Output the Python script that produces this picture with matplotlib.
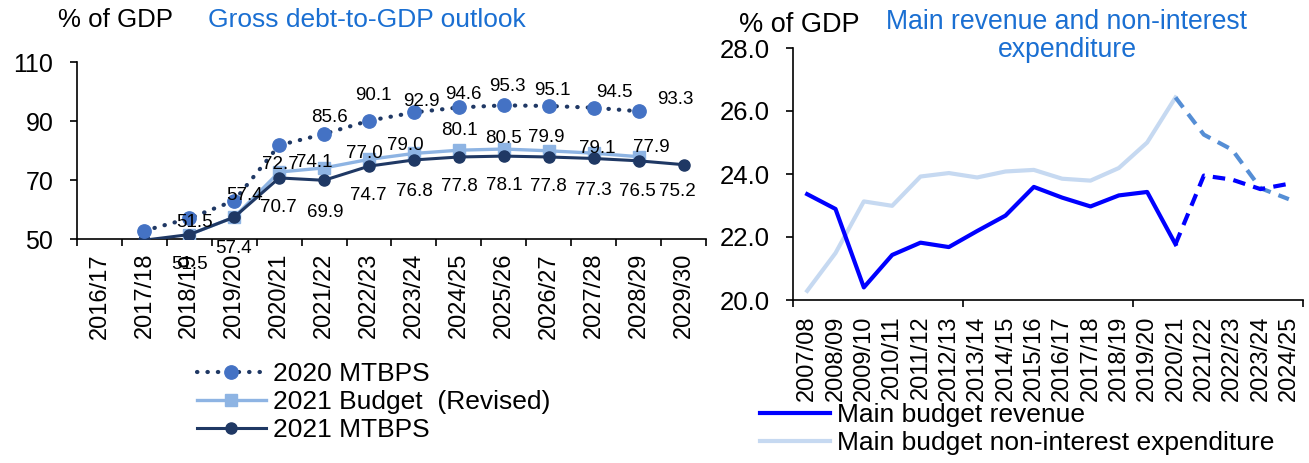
import numpy as np
import matplotlib
matplotlib.use("Agg")
import matplotlib.pyplot as plt
from matplotlib.lines import Line2D

plt.rcParams['font.family'] = ['Liberation Sans', 'DejaVu Sans']

# Left chart data - gross debt outlook (% of GDP)
debt_years = ["2016/17", "2017/18", "2018/19", "2019/20", "2020/21", "2021/22", "2022/23",
              "2023/24", "2024/25", "2025/26", "2026/27", "2027/28", "2028/29", "2029/30"]
mtbps_2020 = [np.nan, 52.8, 57.0, 63.0, 81.8, 85.6, 90.1, 92.9, 94.6, 95.3, 95.1, 94.5, 93.3, np.nan]
budget_2021 = [np.nan, np.nan, 51.5, 57.4, 72.7, 74.1, 77.0, 79.0, 80.1, 80.5, 79.9, 79.1, 77.9, np.nan]
mtbps_2021 = [np.nan, 49.6, 51.5, 57.4, 70.7, 69.9, 74.7, 76.8, 77.8, 78.1, 77.8, 77.3, 76.5, 75.2]

# which points carry a data label
mtbps_2020_labelled = [False, False, False, False, False, True, True, True, True, True, True, True, True, False]
budget_2021_labelled = [False, False, True, True, True, True, True, True, True, True, True, True, True, False]
mtbps_2021_labelled = [False, False, True, True, True, True, True, True, True, True, True, True, True, True]

# Right chart data - main budget revenue and non-interest expenditure (% of GDP)
fiscal_years = ["2007/08", "2008/09", "2009/10", "2010/11", "2011/12", "2012/13", "2013/14",
                "2014/15", "2015/16", "2016/17", "2017/18", "2018/19", "2019/20", "2020/21",
                "2021/22", "2022/23", "2023/24", "2024/25"]
revenue = [23.36, 22.89, 20.40, 21.43, 21.82, 21.68, 22.19, 22.68, 23.59, 23.25, 22.97,
           23.32, 23.43, 21.77, 23.95, 23.82, 23.52, 23.69]
non_interest_exp = [20.29, 21.49, 23.13, 22.99, 23.92, 24.03, 23.89, 24.08, 24.13, 23.85,
                    23.79, 24.19, 25.00, 26.43, 25.25, 24.77, 23.55, 23.20]
first_projection = "2020/21"

# label offsets in pixels (dx, dy), one per point
off_2020 = [(0, 0)] * 5 + [(5, 16), (4, 25), (7, 11), (4, 13), (4, 19), (4, 15), (21, 15), (37, 12), (0, 0)]
off_budget = [(0, 0), (0, 0), (0, -30), (-1, -31), (1, 8), (-10, 5), (-5, 6), (-9, 8), (1, 20),
              (0, 11), (-2, 13), (4, 5), (13, 9), (0, 0)]
off_2021 = [(0, 0), (0, 0), (5, 12), (10, 22), (-1, -30), (1, -32), (-1, -29), (0, -32), (0, -30),
            (0, -29), (0, -30), (0, -32), (-1, -31), (-6, -27)]

NAVY = '#1F3864'
MID_BLUE = '#4472C4'
LIGHT_BLUE = '#8EB4E3'
TITLE_BLUE = '#1A6FD2'
W, H = 1309, 463

fig = plt.figure(figsize=(W / 100, H / 100), dpi=100)

# ---------------- Left chart ----------------
ax1 = fig.add_axes([77 / W, 1 - 239 / H, 629 / W, 177 / H])
x1 = np.arange(len(debt_years))

ax1.plot(x1, budget_2021, color=LIGHT_BLUE, lw=2.4, marker='s', ms=8,
         label='2021 Budget  (Revised)', zorder=3)
ax1.plot(x1, mtbps_2021, color=NAVY, lw=2.2, marker='o', ms=8,
         label='2021 MTBPS', zorder=4)
ax1.plot(x1, mtbps_2020, color=NAVY, lw=3, linestyle=(0, (0.1, 2.4)), dash_capstyle='round',
         marker='o', ms=9.6, markerfacecolor=MID_BLUE, markeredgecolor=MID_BLUE,
         label='2020 MTBPS', zorder=5)

for series, flags, offs in [(mtbps_2020, mtbps_2020_labelled, off_2020),
                            (budget_2021, budget_2021_labelled, off_budget),
                            (mtbps_2021, mtbps_2021_labelled, off_2021)]:
    for i, v in enumerate(series):
        if flags[i] and not np.isnan(v):
            ax1.annotate(f"{v:.1f}", (x1[i], v), xytext=offs[i], textcoords='offset pixels',
                         ha='center', va='center', fontsize=13.5, zorder=6,
                         annotation_clip=False)

ax1.set_ylim(50, 110)
ax1.set_yticks([50, 70, 90, 110])
ax1.set_xlim(-0.5, len(debt_years) - 0.5)
ax1.set_xticks(x1)
ax1.set_xticklabels(debt_years, rotation=90)
ax1.set_xticks(np.arange(-0.5, len(debt_years), 1), minor=True)
ax1.tick_params(axis='x', which='major', length=0, pad=10, labelsize=17)
ax1.tick_params(axis='x', which='minor', length=5, width=1.2, direction='out')
ax1.tick_params(axis='y', length=5, width=1.2, labelsize=18, pad=12)
for s in ['top', 'right']:
    ax1.spines[s].set_visible(False)
for s in ['left', 'bottom']:
    ax1.spines[s].set_linewidth(1.2)

fig.text(58 / W, 1 - 20 / H, '% of GDP', fontsize=18.6, va='center', ha='left')
fig.text(208 / W, 1 - 20 / H, 'Gross debt-to-GDP outlook', fontsize=19, va='center',
         ha='left', color=TITLE_BLUE)

h, l = ax1.get_legend_handles_labels()
order = [2, 0, 1]
fig.legend([h[i] for i in order], [l[i] for i in order], loc='upper left',
           bbox_to_anchor=(197 / W, 1 - 362 / H), frameon=False, fontsize=19,
           handlelength=2.6, handletextpad=0.27, labelspacing=0.15, borderpad=0, borderaxespad=0)

# ---------------- Right chart ----------------
ax2 = fig.add_axes([793 / W, 1 - 300 / H, 510 / W, 252 / H])
x2 = np.arange(len(fiscal_years))
p = fiscal_years.index(first_projection)

ax2.plot(x2[:p + 1], non_interest_exp[:p + 1], color='#C6D9F1', lw=3, zorder=2)
ax2.plot(x2[p:], non_interest_exp[p:], color='#558ED5', lw=3, linestyle=(0, (3, 2)), zorder=2)
ax2.plot(x2[:p + 1], revenue[:p + 1], color='#0000FF', lw=3, zorder=3)
ax2.plot(x2[p:], revenue[p:], color='#0000FF', lw=3, linestyle=(0, (3, 2)), zorder=3)

ax2.set_ylim(20, 28)
ax2.set_yticks([20, 22, 24, 26, 28])
ax2.set_yticklabels([f"{t:.1f}" for t in [20, 22, 24, 26, 28]])
ax2.set_xlim(-0.5, len(fiscal_years) - 0.5)
ax2.set_xticks(x2)
ax2.set_xticklabels(fiscal_years, rotation=90)
ax2.set_xticks(np.arange(-0.5, len(fiscal_years), 6), minor=True)
ax2.tick_params(axis='x', which='major', length=0, pad=11, labelsize=17)
ax2.tick_params(axis='x', which='minor', length=5, width=1.2, direction='out')
ax2.tick_params(axis='y', length=5, width=1.2, labelsize=18.5, pad=12)
for s in ['top', 'right']:
    ax2.spines[s].set_visible(False)
for s in ['left', 'bottom']:
    ax2.spines[s].set_linewidth(1.2)

fig.text(739 / W, 1 - 25 / H, '% of GDP', fontsize=19.5, va='center', ha='left')
fig.text(1067 / W, 1 - 36 / H, 'Main revenue and non-interest\nexpenditure', fontsize=19.2,
         va='center', ha='center', color=TITLE_BLUE, linespacing=1.1)

rev_handles = [Line2D([], [], color='#0000FF', lw=3), Line2D([], [], color='#C6D9F1', lw=3)]
fig.legend(rev_handles, ['Main budget revenue', 'Main budget non-interest expenditure'],
           loc='upper left', bbox_to_anchor=(760 / W, 1 - 403 / H), frameon=False,
           fontsize=19, handlelength=2.65, handletextpad=0.27, labelspacing=0.15,
           borderpad=0, borderaxespad=0)

fig.savefig('out.png', dpi=100)
